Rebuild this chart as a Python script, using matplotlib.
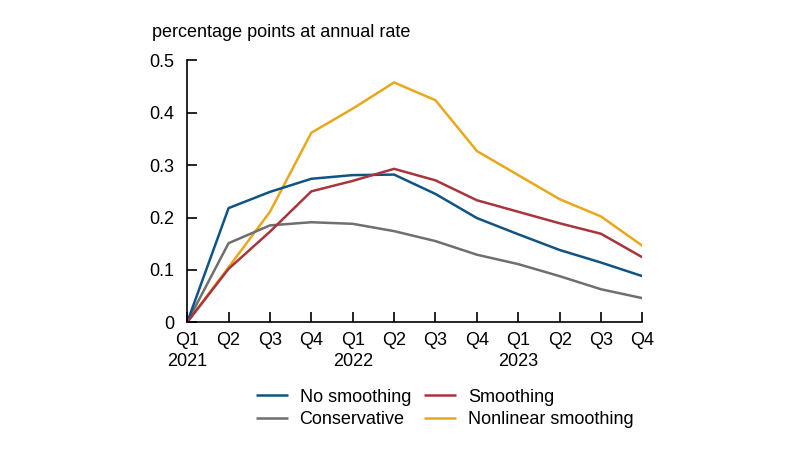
import matplotlib
matplotlib.use("Agg")
import matplotlib.pyplot as plt

plt.rcParams['font.family'] = ['Liberation Sans', 'DejaVu Sans']

# quarters Q1 2021 .. Q4 2023
quarters = ['Q1\n2021', 'Q2', 'Q3', 'Q4', 'Q1\n2022', 'Q2', 'Q3', 'Q4',
            'Q1\n2023', 'Q2', 'Q3', 'Q4']

no_smoothing = [0.0, 0.218, 0.249, 0.274, 0.281, 0.282, 0.245, 0.199, 0.168, 0.138, 0.114, 0.088]
smoothing = [0.0, 0.102, 0.173, 0.250, 0.270, 0.293, 0.271, 0.233, 0.211, 0.189, 0.169, 0.124]
conservative = [0.0, 0.151, 0.185, 0.191, 0.188, 0.174, 0.155, 0.129, 0.111, 0.088, 0.063, 0.046]
nonlinear = [0.0, 0.105, 0.211, 0.362, 0.408, 0.458, 0.424, 0.327, 0.281, 0.235, 0.202, 0.146]

series = [
    ('No smoothing', no_smoothing, '#0f5483'),
    ('Conservative', conservative, '#6f6f6f'),
    ('Smoothing', smoothing, '#a8353b'),
    ('Nonlinear smoothing', nonlinear, '#e8a81c'),
]

fs = 13

fig = plt.figure(figsize=(8, 4.65), dpi=100)
ax = fig.add_axes([0.234, 0.307, 0.569, 0.563])

x = range(len(quarters))
# yellow first so it sits under the others
for name, vals, col in [series[3], series[1], series[0], series[2]]:
    ax.plot(x, vals, color=col, lw=1.8, label=name, solid_capstyle='butt')

ax.set_xlim(0, len(quarters) - 1)
ax.set_ylim(0, 0.5)
ax.set_xticks(list(x))
ax.set_xticklabels(quarters, fontsize=fs, linespacing=1.3, va='top')
ax.set_yticks([0, 0.1, 0.2, 0.3, 0.4, 0.5])
ax.set_yticklabels(['0', '0.1', '0.2', '0.3', '0.4', '0.5'], fontsize=fs)
ax.tick_params(axis='both', direction='in', length=7, width=1.2, color='black')
ax.tick_params(axis='x', pad=7)
ax.tick_params(axis='y', pad=9)
for s in ['top', 'right']:
    ax.spines[s].set_visible(False)
for s in ['left', 'bottom']:
    ax.spines[s].set_linewidth(1.2)

fig.text(0.19, 0.931, 'percentage points at annual rate', fontsize=fs, va='center')

handles = {h.get_label(): h for h in ax.get_lines()}
order = ['No smoothing', 'Conservative', 'Smoothing', 'Nonlinear smoothing']
fig.legend([handles[n] for n in order], order, ncol=2, frameon=False,
           fontsize=fs, loc='center', bbox_to_anchor=(0.556, 0.1215),
           handlelength=1.75, columnspacing=0.75, labelspacing=0.3, handletextpad=0.65)

fig.savefig('out.png', dpi=100)
